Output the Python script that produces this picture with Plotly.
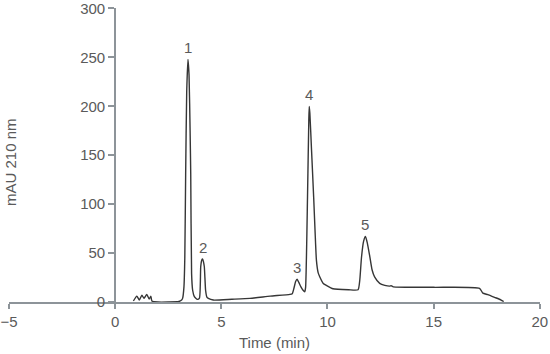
import plotly.graph_objects as go

# Chromatogram trace (time in min, absorbance in mAU)
time_min = [0.86, 1.02, 1.14, 1.26, 1.36, 1.49, 1.60, 1.68, 1.73, 2.0, 2.5, 3.0,
            3.13, 3.18, 3.24, 3.28, 3.32, 3.37, 3.43, 3.48, 3.53, 3.56, 3.60, 3.65,
            3.73, 3.87, 3.97, 4.03, 4.08, 4.12, 4.16, 4.20, 4.26, 4.32, 4.39, 4.62,
            5.5, 6.35, 7.3, 8.23, 8.34, 8.42, 8.50, 8.57, 8.65, 8.75, 8.85, 8.93,
            8.97, 9.06, 9.12, 9.14, 9.17, 9.25, 9.35, 9.42, 9.48, 9.56, 9.64, 9.80,
            9.95, 10.26, 11.0, 11.44, 11.52, 11.60, 11.70, 11.79, 11.88, 11.99,
            12.10, 12.22, 12.46, 12.70, 12.93, 13.0, 13.1, 15.0, 17.16, 17.32,
            17.55, 17.9, 18.18, 18.3]
mau = [1, 6, 2, 7, 3.7, 7.8, 3, 6, 1, 0, 0, 0.5,
       2, 4, 15.5, 45, 130, 215, 248, 232, 175, 130, 29, 12,
       5.4, 2.7, 4, 36, 43, 44, 41, 36, 12, 5, 3.7, 2,
       2.8, 3.7, 6, 7.8, 8.5, 14, 21, 23.3, 20, 15.5, 12, 10.5,
       15, 107, 185, 200, 193, 155, 107, 70, 42.5, 30, 25.6, 19,
       17, 13.5, 12.5, 12.5, 22, 45, 62, 67, 60, 47,
       33, 25.6, 19, 17, 16.2, 16.6, 15.5, 15, 14, 9,
       7.5, 4.5, 2, 0.5]

peak_labels = ["1", "2", "3", "4", "5"]
peak_times = [3.43, 4.12, 8.57, 9.14, 11.79]
peak_heights = [248, 44, 23.3, 200, 67]

x_ticks = [-5, 0, 5, 10, 15, 20]
y_ticks = [0, 50, 100, 150, 200, 250, 300]

axis_col = "#8d9499"
text_col = "#5a5a5a"
font_fam = "Liberation Sans, Arial, sans-serif"

fig = go.Figure()
fig.add_trace(go.Scatter(
    x=time_min, y=mau, mode="lines",
    line=dict(color="#363636", width=1.4, shape="spline", smoothing=0.5),
    hoverinfo="skip", showlegend=False,
))

annotations = []
for lab, t, h in zip(peak_labels, peak_times, peak_heights):
    annotations.append(dict(
        x=t, y=h, xref="x", yref="y", text=lab, showarrow=False,
        xanchor="center", yanchor="bottom", yshift=1,
        font=dict(size=15, color=text_col, family=font_fam),
    ))
annotations.append(dict(
    x=0, y=0.476, xref="paper", yref="paper", text="mAU 210 nm",
    textangle=-90, showarrow=False, xanchor="center", yanchor="middle",
    xshift=1,
    font=dict(size=15, color=text_col, family=font_fam),
))

fig.update_layout(
    width=550, height=354,
    margin=dict(l=9, r=10, t=8, b=52, autoexpand=False),
    paper_bgcolor="white", plot_bgcolor="white",
    font=dict(family=font_fam, size=15, color=text_col),
    annotations=annotations,
    xaxis=dict(
        range=[-5, 20.01], tickvals=x_ticks, showgrid=False, zeroline=False,
        showline=True, linecolor=axis_col, linewidth=2,
        ticks="outside", ticklen=5, tickwidth=2, tickcolor=axis_col,
        tickfont=dict(size=15, color=text_col), ticklabeloverflow="allow",
        title=dict(text="Time (min)", font=dict(size=15, color=text_col), standoff=8),
        fixedrange=True,
    ),
    yaxis=dict(
        range=[0, 300.5], tickvals=y_ticks, showgrid=False, zeroline=False,
        anchor="free", position=0.2,
        showline=True, linecolor=axis_col, linewidth=2,
        ticks="outside", ticklen=6, tickwidth=2, tickcolor=axis_col,
        tickfont=dict(size=15, color=text_col), ticklabeloverflow="allow",
        fixedrange=True,
    ),
)

fig.write_html("out.html")
